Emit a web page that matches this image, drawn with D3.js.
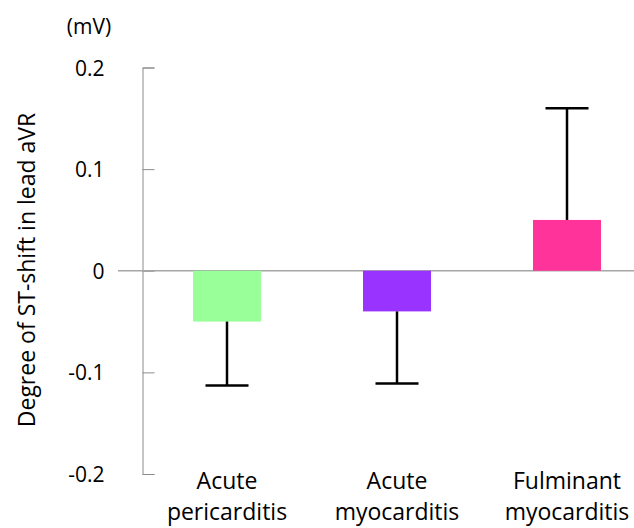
<!DOCTYPE html>
<html>
<head>
<meta charset="utf-8">
<script src="https://cdn.jsdelivr.net/npm/d3@7"></script>
<style>
  body { margin: 0; background: #fff; }
  text { font-family: "Open Sans", "Noto Sans", sans-serif; fill: #000; }
</style>
</head>
<body>
<div id="chart-container"></div>
<script>
// data
const categories = [["Acute", "pericarditis"], ["Acute", "myocarditis"], ["Fulminant", "myocarditis"]];
const means = [-0.05, -0.04, 0.05];
const sds = [0.063, 0.071, 0.11];
const colors = ["#99ff99", "#9933ff", "#ff3399"];
const yTicks = [-0.2, -0.1, 0, 0.1, 0.2];
const tickLabels = ["-0.2", "-0.1", "0", "0.1", "0.2"];

const W = 634, H = 528;
const svg = d3.select("#chart-container")
    .append("svg")
        .attr("width", W)
        .attr("height", H);

// scales
const yScale = d3.scaleLinear().domain([-0.2, 0.2]).range([474, 67.5]);
const xScale = d3.scaleBand()
    .domain(d3.range(categories.length))
    .range([142, 652])
    .paddingInner(0.6)
    .paddingOuter(0.3);

// y axis (ticks point inward)
const yAxis = d3.axisLeft(yScale)
    .tickValues(yTicks)
    .tickFormat((d, i) => tickLabels[i])
    .tickSize(-12)
    .tickPadding(38);
const ax = svg.append("g")
    .attr("transform", "translate(142.5,0)")
    .call(yAxis);
ax.attr("font-size", null).attr("font-family", null);
ax.selectAll("path, line").attr("stroke", "#8c8c8c").attr("stroke-width", 1);
ax.selectAll("text").style("font-size", "21px").attr("dy", "0.36em");

// zero line
svg.append("line")
    .attr("x1", 118).attr("x2", W)
    .attr("y1", yScale(0)).attr("y2", yScale(0))
    .attr("stroke", "#a6a6a6").attr("stroke-width", 1.5);

// bars
svg.selectAll(".bar")
    .data(means)
    .join("rect")
        .attr("class", "bar")
        .attr("x", (d, i) => xScale(i))
        .attr("width", xScale.bandwidth())
        .attr("y", d => yScale(Math.max(0, d)))
        .attr("height", d => Math.abs(yScale(d) - yScale(0)))
        .attr("fill", (d, i) => colors[i]);

// error bars (one side, away from zero)
const capW = 43;
means.forEach((m, i) => {
    const cx = xScale(i) + xScale.bandwidth() / 2;
    const end = m + Math.sign(m) * sds[i];
    svg.append("line")
        .attr("x1", cx).attr("x2", cx)
        .attr("y1", yScale(m)).attr("y2", yScale(end))
        .attr("stroke", "#000").attr("stroke-width", 2.5);
    svg.append("line")
        .attr("x1", cx - capW / 2).attr("x2", cx + capW / 2)
        .attr("y1", yScale(end)).attr("y2", yScale(end))
        .attr("stroke", "#000").attr("stroke-width", 2.5);
});

// category labels
categories.forEach((lines, i) => {
    const cx = xScale(i) + xScale.bandwidth() / 2;
    const t = svg.append("text")
        .attr("text-anchor", "middle")
        .style("font-size", "23px");
    lines.forEach((s, j) => {
        t.append("tspan")
            .attr("x", cx)
            .attr("y", 489 + j * 31)
            .text(s);
    });
});

// y axis label
svg.append("text")
    .attr("transform", "rotate(-90)")
    .attr("x", -270)
    .attr("y", 35)
    .attr("text-anchor", "middle")
    .style("font-size", "23px")
    .text("Degree of ST-shift in lead aVR");

// unit
svg.append("text")
    .attr("x", 89)
    .attr("y", 34)
    .attr("text-anchor", "middle")
    .style("font-size", "21px")
    .text("(mV)");
</script>
</body>
</html>
